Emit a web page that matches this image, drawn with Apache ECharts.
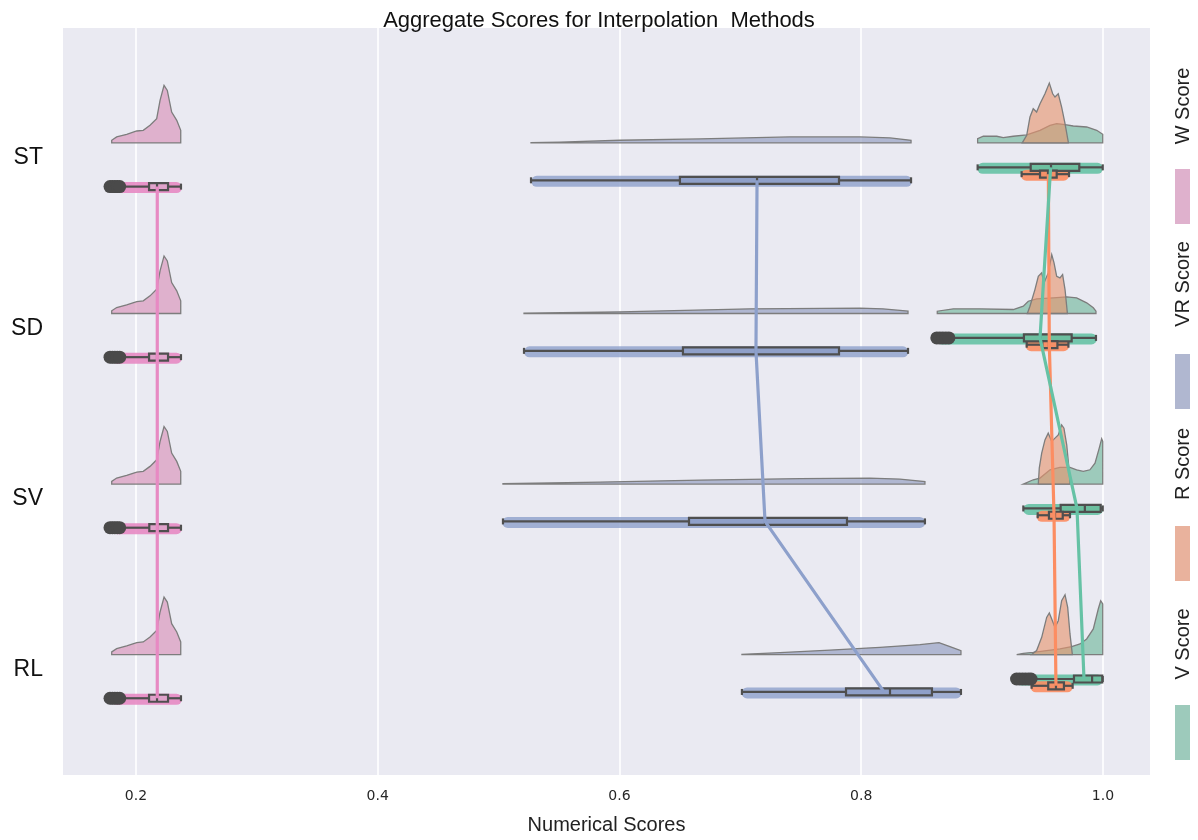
<!DOCTYPE html>
<html>
<head>
<meta charset="utf-8">
<script src="https://cdn.jsdelivr.net/npm/echarts@6/dist/echarts.min.js"></script>
<style>
  html, body { margin: 0; padding: 0; background: #fff; }
  #chart { width: 1198px; height: 840px; }
</style>
</head>
<body>
<div id="chart"></div>
<script>
const myChart = echarts.init(document.getElementById('chart'));

// 类别 & 刻度
const categories = ['ST', 'SD', 'SV', 'RL'];
const xTicks = [0.2, 0.4, 0.6, 0.8, 1.0];

// 均值（点线）
const meanW = [0.2176, 0.2176, 0.2176, 0.2176];
const meanVR = [0.7138, 0.7129, 0.7204, 0.8188];
const meanR = [0.9548, 0.9556, 0.9595, 0.9611];
const meanV = [0.9567, 0.9479, 0.9785, 0.9843];

// 箱线 [下须, Q1, 中位数, Q3, 上须]
const boxW = [
  [0.1892, 0.2108, 0.2174, 0.2265, 0.2372],
  [0.1892, 0.2108, 0.2174, 0.2265, 0.2372],
  [0.1892, 0.2110, 0.2176, 0.2265, 0.2372],
  [0.1892, 0.2108, 0.2174, 0.2265, 0.2372]
];
const boxVR = [
  [0.5268, 0.6500, 0.7138, 0.7816, 0.8412],
  [0.5210, 0.6525, 0.7129, 0.7816, 0.8387],
  [0.5036, 0.6575, 0.7204, 0.7882, 0.8527],
  [0.7013, 0.7874, 0.8238, 0.8585, 0.8825]
];
const boxR = [
  [0.9327, 0.9479, 0.9545, 0.9617, 0.9719],
  [0.9369, 0.9498, 0.9553, 0.9623, 0.9714],
  [0.9460, 0.9553, 0.9603, 0.9667, 0.9727],
  [0.9410, 0.9547, 0.9611, 0.9677, 0.9749]
];
const boxV = [
  [0.8963, 0.9402, 0.9570, 0.9804, 0.9998],
  [0.8761, 0.9346, 0.9480, 0.9741, 0.9942],
  [0.9341, 0.9650, 0.9850, 0.9981, 0.9998],
  [0.9429, 0.9760, 0.9910, 0.9994, 0.9998]
];

// 离群点
const outW = [
  [0.1785, 0.1805, 0.1825, 0.1845, 0.1865],
  [0.1785, 0.1805, 0.1825, 0.1845, 0.1865],
  [0.1785, 0.1805, 0.1825, 0.1845, 0.1865],
  [0.1785, 0.1805, 0.1825, 0.1845, 0.1865]
];
const outV = [
  [],
  [0.8625, 0.8650, 0.8675, 0.8700, 0.8725],
  [],
  [0.9285, 0.9310, 0.9335, 0.9360, 0.9385, 0.9405]
];

// 散点带范围 [min, max]
const stripW = [[0.180, 0.238], [0.180, 0.238], [0.180, 0.238], [0.180, 0.238]];
const stripVR = [[0.527, 0.842], [0.521, 0.839], [0.503, 0.853], [0.701, 0.883]];
const stripR = [[0.932, 0.972], [0.936, 0.972], [0.945, 0.973], [0.940, 0.975]];
const stripV = [[0.896, 1.000], [0.862, 0.995], [0.934, 1.000], [0.928, 1.000]];

// 密度云 [x, 密度]
const cloudWOne = [[0.1799, 2.7], [0.1840, 6], [0.1923, 8.7], [0.2006, 12], [0.2060, 12.7], [0.2116, 17.7],
  [0.2171, 24.3], [0.2199, 42.7], [0.2232, 57.7], [0.2259, 52.7], [0.2295, 31], [0.2337, 22.7], [0.2370, 12.7]];
const cloudW = [cloudWOne, cloudWOne, cloudWOne, cloudWOne];
const cloudVR = [
  [[0.5268, 0.3], [0.5508, 0.8], [0.6004, 2.7], [0.6666, 4], [0.7410, 6], [0.7990, 6], [0.8238, 5], [0.8412, 2.7]],
  [[0.5210, 0.3], [0.6004, 1.7], [0.7079, 4.7], [0.7990, 5.3], [0.8180, 4.7], [0.8387, 2.3]],
  [[0.5036, 0.3], [0.5839, 2], [0.6666, 4], [0.7493, 5.5], [0.8072, 6], [0.8320, 5], [0.8527, 2.5]],
  [[0.7013, 0.3], [0.7328, 2], [0.7741, 4.5], [0.8155, 7.3], [0.8486, 10], [0.8643, 12], [0.8734, 8], [0.8825, 4]]
];
const cloudR = [
  [[0.9332, 0], [0.9369, 7.7], [0.9396, 26], [0.9423, 34.3], [0.9451, 31], [0.9479, 39.3], [0.9520, 49.3],
    [0.9556, 60], [0.9584, 49.3], [0.9603, 46], [0.9630, 49.3], [0.9658, 36], [0.9686, 19.3], [0.9713, 1]],
  [[0.9374, 0], [0.9396, 7.3], [0.9437, 24], [0.9465, 37.3], [0.9493, 40.7], [0.9512, 30.7], [0.9547, 40.7],
    [0.9576, 59], [0.9595, 50.7], [0.9617, 37.3], [0.9644, 35.7], [0.9666, 39], [0.9686, 24], [0.9705, 0.7]],
  [[0.9465, 0], [0.9473, 16], [0.9493, 31], [0.9520, 44.3], [0.9547, 51], [0.9576, 42.7], [0.9603, 46],
    [0.9630, 49.3], [0.9658, 59.3], [0.9677, 56], [0.9700, 39.3], [0.9713, 22.7], [0.9727, 2.7]],
  [[0.9410, 0], [0.9451, 4], [0.9493, 17.3], [0.9534, 37.3], [0.9556, 41.7], [0.9576, 35.7], [0.9603, 27.3],
    [0.9630, 34], [0.9658, 54], [0.9686, 60], [0.9708, 47.3], [0.9727, 20.7], [0.9746, 0.7]]
];
const cloudV = [
  [[0.8963, 4.3], [0.9010, 6.7], [0.9121, 6.7], [0.9175, 5.3], [0.9258, 6.7], [0.9369, 8], [0.9479, 12.7],
    [0.9562, 17.7], [0.9617, 19.3], [0.9686, 18.3], [0.9754, 17], [0.9865, 16], [0.9948, 12.7], [0.9998, 8.7]],
  [[0.8629, 2.3], [0.8762, 4.7], [0.8982, 4.7], [0.9258, 4], [0.9341, 7.3], [0.9382, 12.3], [0.9451, 14.7],
    [0.9589, 15.7], [0.9700, 16.7], [0.9782, 15.7], [0.9865, 10.7], [0.9920, 5.7], [0.9942, 2.3]],
  [[0.9341, 0], [0.9423, 4.3], [0.9479, 6], [0.9562, 14.3], [0.9644, 16.7], [0.9727, 16.7], [0.9782, 14.3],
    [0.9837, 12.7], [0.9892, 14.3], [0.9934, 21], [0.9969, 36], [0.9989, 45.3], [0.9998, 42.7]],
  [[0.9286, 0], [0.9341, 1.3], [0.9423, 2.3], [0.9534, 4], [0.9644, 5.7], [0.9741, 8], [0.9810, 10.7],
    [0.9865, 15.7], [0.9920, 25.7], [0.9961, 45.7], [0.9981, 54], [0.9998, 50.7]]
];

// 布局（y轴单位 = 类别间距）
const CLOUD_BASE = -0.086;
const DENS_SCALE = 1 / 171;
const OFF = { V: 0.057, R: 0.097, VR: 0.133, W: 0.170 };
const EDGE = '#4f4f4f';
const FONT = '"Liberation Sans", Arial, sans-serif';

const hueStyle = {
  W: { cloud: 'rgba(217,146,185,0.65)', box: '#e0a3cb', strip: 'rgba(231,138,195,0.9)', line: '#e78ac3', legend: '#dfb1cd' },
  VR: { cloud: 'rgba(145,155,190,0.65)', box: '#8fa0c9', strip: 'rgba(141,160,203,0.8)', line: '#8da0cb', legend: '#b0b7d0' },
  R: { cloud: 'rgba(231,148,110,0.62)', box: '#f59068', strip: 'rgba(252,141,98,0.9)', line: '#fc8d62', legend: '#e9b29d' },
  V: { cloud: 'rgba(115,185,157,0.65)', box: '#6cbf9f', strip: 'rgba(102,194,165,0.9)', line: '#66c2a5', legend: '#9dcabb' }
};

function cloudSeries(key, clouds) {
  return {
    type: 'custom',
    name: key + ' cloud',
    z: 2,
    data: categories.map((c, i) => [i]),
    renderItem: function (params, api) {
      const i = api.value(0);
      const prof = clouds[i];
      const base = i + CLOUD_BASE;
      const pts = [api.coord([prof[0][0], base])];
      prof.forEach(p => pts.push(api.coord([p[0], base - p[1] * DENS_SCALE])));
      pts.push(api.coord([prof[prof.length - 1][0], base]));
      return {
        type: 'polygon',
        shape: { points: pts },
        style: { fill: hueStyle[key].cloud, stroke: '#7d7d7d', lineWidth: 1.3 }
      };
    }
  };
}

function stripSeries(key, ranges) {
  return {
    type: 'custom',
    name: key + ' strip',
    z: 3,
    data: ranges.map((r, i) => [i, r[0], r[1]]),
    renderItem: function (params, api) {
      const y = api.value(0) + OFF[key];
      const a = api.coord([api.value(1), y]);
      const b = api.coord([api.value(2), y]);
      const h = 11;
      return {
        type: 'rect',
        shape: { x: a[0], y: a[1] - h / 2 + 1, width: b[0] - a[0], height: h, r: h / 2 },
        style: { fill: hueStyle[key].strip }
      };
    }
  };
}

function boxSeries(key, stats) {
  return {
    type: 'custom',
    name: key + ' box',
    z: 4,
    data: stats.map((s, i) => [i].concat(s)),
    renderItem: function (params, api) {
      const y = api.value(0) + OFF[key];
      const xs = [1, 2, 3, 4, 5].map(k => api.coord([api.value(k), y])[0]);
      const yc = api.coord([api.value(1), y])[1];
      const ln = { stroke: EDGE, lineWidth: 2.2 };
      return {
        type: 'group',
        children: [
          { type: 'line', shape: { x1: xs[0], y1: yc, x2: xs[1], y2: yc }, style: ln },
          { type: 'line', shape: { x1: xs[3], y1: yc, x2: xs[4], y2: yc }, style: ln },
          { type: 'line', shape: { x1: xs[0], y1: yc - 3, x2: xs[0], y2: yc + 3 }, style: ln },
          { type: 'line', shape: { x1: xs[4], y1: yc - 3, x2: xs[4], y2: yc + 3 }, style: ln },
          { type: 'rect', shape: { x: xs[1], y: yc - 3.5, width: xs[3] - xs[1], height: 7 },
            style: { fill: hueStyle[key].box, stroke: EDGE, lineWidth: 2.2 } },
          { type: 'line', shape: { x1: xs[2], y1: yc - 3.5, x2: xs[2], y2: yc + 3.5 }, style: ln }
        ]
      };
    }
  };
}

function outlierSeries(key, outs) {
  const data = [];
  outs.forEach((arr, i) => arr.forEach(v => data.push([v, i + OFF[key]])));
  return {
    type: 'scatter',
    z: 5,
    symbol: 'circle',
    symbolSize: 13,
    itemStyle: { color: '#4a4a4a', opacity: 1 },
    data: data
  };
}

function meanSeries(key, means) {
  return {
    type: 'line',
    z: 6,
    showSymbol: false,
    symbol: 'none',
    lineStyle: { color: hueStyle[key].line, width: 3.2 },
    data: means.map((m, i) => [m, i + OFF[key]])
  };
}

// 图例
const legendItems = [
  { key: 'W', label: 'W Score', textY: 106, top: 169 },
  { key: 'VR', label: 'VR Score', textY: 284, top: 354 },
  { key: 'R', label: 'R Score', textY: 464, top: 526 },
  { key: 'V', label: 'V Score', textY: 644, top: 705 }
];
const legendGraphics = [];
legendItems.forEach(it => {
  legendGraphics.push({
    type: 'text', x: 1183, y: it.textY, rotation: Math.PI / 2,
    style: { text: it.label, fill: '#222', font: '20px ' + FONT,
      textAlign: 'center', textVerticalAlign: 'middle' }
  });
  legendGraphics.push({
    type: 'rect', shape: { x: 1175, y: it.top, width: 15, height: 55 },
    style: { fill: hueStyle[it.key].legend }
  });
});

const option = {
  backgroundColor: '#ffffff',
  animation: false,
  title: {
    text: 'Aggregate Scores for Interpolation  Methods',
    left: 'center',
    top: 5,
    textStyle: { fontFamily: FONT, fontSize: 22, fontWeight: 'normal', color: '#111' }
  },
  grid: {
    left: 63, right: 48, top: 28, bottom: 63,
    show: true, backgroundColor: '#eaeaf2', borderWidth: 0
  },
  xAxis: {
    type: 'value',
    min: 0.1396,
    max: 1.0389,
    name: 'Numerical Scores',
    nameLocation: 'middle',
    nameGap: 40,
    nameTextStyle: { fontFamily: FONT, fontSize: 20, color: '#222' },
    axisLine: { show: false },
    axisTick: { show: false, customValues: xTicks },
    axisLabel: {
      customValues: xTicks,
      margin: 14,
      fontFamily: 'DejaVu Sans, sans-serif',
      fontSize: 14,
      color: '#262626',
      formatter: v => v.toFixed(1)
    },
    splitLine: { show: true, lineStyle: { color: '#ffffff', width: 1.6 } }
  },
  yAxis: {
    type: 'value',
    inverse: true,
    min: -0.76,
    max: 3.62,
    axisLine: { show: false },
    axisTick: { show: false, customValues: [0, 1, 2, 3] },
    splitLine: { show: false },
    axisLabel: {
      customValues: [0, 1, 2, 3],
      margin: 20,
      fontFamily: FONT,
      fontSize: 23,
      color: '#111',
      formatter: v => categories[Math.round(v)]
    }
  },
  graphic: legendGraphics,
  series: [
    cloudSeries('W', cloudW),
    cloudSeries('VR', cloudVR),
    cloudSeries('V', cloudV),
    cloudSeries('R', cloudR),
    stripSeries('W', stripW),
    stripSeries('VR', stripVR),
    stripSeries('V', stripV),
    stripSeries('R', stripR),
    boxSeries('W', boxW),
    boxSeries('VR', boxVR),
    boxSeries('V', boxV),
    boxSeries('R', boxR),
    outlierSeries('W', outW),
    outlierSeries('V', outV),
    meanSeries('W', meanW),
    meanSeries('VR', meanVR),
    meanSeries('R', meanR),
    meanSeries('V', meanV)
  ]
};
myChart.setOption(option);
</script>
</body>
</html>
